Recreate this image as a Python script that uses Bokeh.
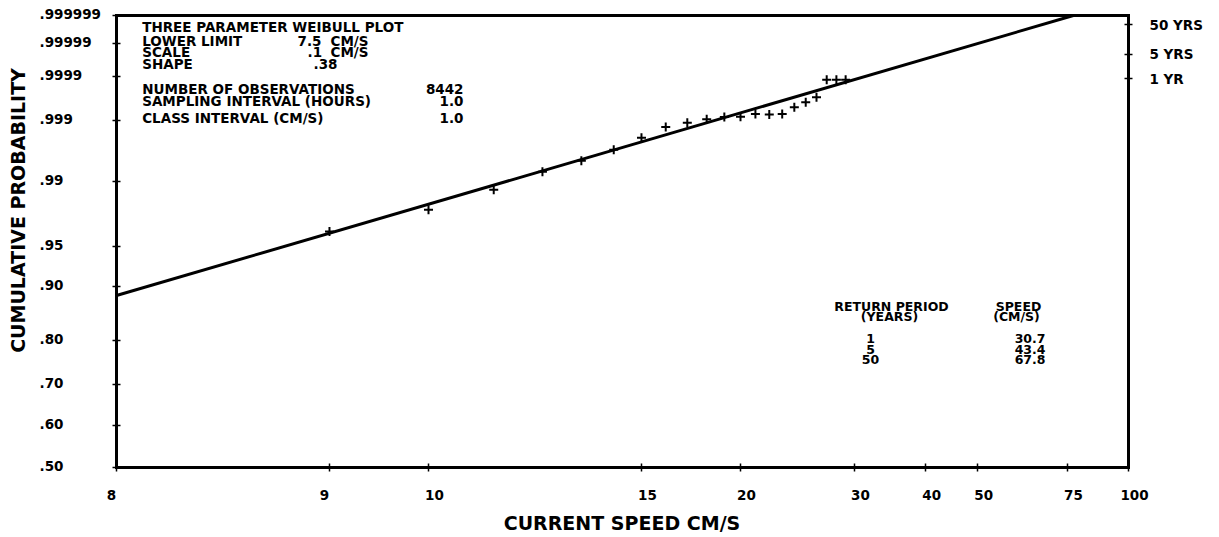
import math
from bokeh.plotting import figure
from bokeh.models import FixedTicker, CustomJSTickFormatter, LinearAxis, Label, Range1d, ColumnDataSource
from bokeh.embed import file_html
from bokeh.resources import INLINE

# ---------------- data ----------------
LOWER_LIMIT = 7.5
SPEED_CLASSES = [9, 10, 11, 12, 13, 14, 15, 16, 17, 18, 19, 20, 21, 22, 23, 24, 25, 26, 27, 28, 29]
CUM_PROB = [0.9634, 0.9781, 0.98725, 0.99265, 0.99493, 0.99659, 0.99786, 0.99864, 0.99888,
            0.99904, 0.99914, 0.99915, 0.99925, 0.99923, 0.99925, 0.99946, 0.99958, 0.99968,
            0.99988, 0.99988, 0.99988]
FIT_SPEED = [8.0, 77.1]
FIT_PROB = [0.8851, 0.999999]

X_TICKS = [8, 9, 10, 15, 20, 30, 40, 50, 75, 100]
X_TICK_LABELS = ["8", "9", "10", "15", "20", "30", "40", "50", "75", "100"]
Y_TICKS = [0.50, 0.60, 0.70, 0.80, 0.90, 0.95, 0.99, 0.999, 0.9999, 0.99999, 0.999999]
Y_TICK_LABELS = [".50", ".60", ".70", ".80", ".90", ".95", ".99", ".999", ".9999", ".99999", ".999999"]

RP_PROB = [0.999886, 0.9999772, 0.99999772]
RP_AXIS_LABELS = ["1 YR", "5 YRS", "50 YRS"]
RP_YEARS = ["1", "5", "50"]
RP_SPEEDS = ["30.7", "43.4", "67.8"]

INFO_TITLE = "THREE PARAMETER WEIBULL PLOT"
PARAM_NAMES = ["LOWER LIMIT", "SCALE", "SHAPE"]
PARAM_VALUES = ["7.5", ".1", ".38"]
PARAM_UNITS = ["CM/S", "CM/S", ""]
OBS_NAMES = ["NUMBER OF OBSERVATIONS", "SAMPLING INTERVAL (HOURS)", "CLASS INTERVAL (CM/S)"]
OBS_VALUES = ["8442", "1.0", "1.0"]

# ---------------- transforms (Weibull probability paper) ----------------
def tx(v):
    return math.log10(v - LOWER_LIMIT)

def ty(p):
    return math.log10(-math.log(1.0 - p))

XT0, XT1 = tx(X_TICKS[0]), tx(X_TICKS[-1])
YT0, YT1 = ty(Y_TICKS[0]), ty(Y_TICKS[-1])

# canvas and plot-box geometry (pixels)
W, H = 1216, 535
L, R, T, B = 116.0, 1128.0, 15.0, 467.0
SX = (XT1 - XT0) / (R - L)
SY = (YT1 - YT0) / (B - T)
X_START, X_END = XT0 - L * SX, XT0 + (W - L) * SX
Y_END, Y_START = YT1 + T * SY, YT1 - (H - T) * SY

def px2x(px):
    return X_START + px * SX

def py2y(py):
    return Y_END - py * SY

FONT = "DejaVu Sans"

p = figure(width=W, height=H, output_backend="svg", toolbar_location=None,
           x_range=Range1d(X_START, X_END), y_range=Range1d(Y_START, Y_END),
           x_axis_location=None, y_axis_location=None, min_border=0)
p.grid.visible = False
p.background_fill_color = "white"
p.border_fill_color = "white"
p.outline_line_color = None

blank = CustomJSTickFormatter(code="return '';")
rp_formatter = CustomJSTickFormatter(
    args=dict(vals=[ty(v) for v in RP_PROB], labels=RP_AXIS_LABELS),
    code="""
let best = 0; let bd = Infinity;
for (let i = 0; i < vals.length; i++) { const d = Math.abs(vals[i] - tick); if (d < bd) { bd = d; best = i; } }
return labels[best];
""")

def make_axis(ticks, loc, bounds, formatter, place):
    ax = LinearAxis(ticker=FixedTicker(ticks=ticks, minor_ticks=[]), formatter=formatter,
                    fixed_location=loc, bounds=bounds)
    ax.axis_line_width = 3
    ax.axis_line_color = "black"
    ax.axis_line_cap = "square"
    ax.major_tick_in = 4
    ax.major_tick_out = 4
    ax.major_tick_line_width = 1.5
    ax.major_tick_line_color = "black"
    ax.minor_tick_line_color = None
    ax.major_label_text_font = FONT
    ax.major_label_text_font_style = "bold"
    ax.major_label_text_font_size = "13.5px"
    ax.major_label_text_color = "black"
    p.add_layout(ax, place)
    return ax

make_axis([ty(v) for v in Y_TICKS], XT0, (YT0, YT1), blank, "left")
make_axis([tx(v) for v in X_TICKS], YT0, (XT0, XT1), blank, "below")
rax = make_axis([ty(v) for v in RP_PROB], XT1, (YT0, YT1), rp_formatter, "right")
rax.major_label_standoff = 17
make_axis([], YT1, (XT0, XT1), blank, "above")

# fitted line
p.line([tx(v) for v in FIT_SPEED], [ty(v) for v in FIT_PROB], line_color="black", line_width=3)

# observations
src = ColumnDataSource(dict(x=[tx(v) for v in SPEED_CLASSES], y=[ty(v) for v in CUM_PROB]))
p.scatter("x", "y", source=src, marker="cross", size=9, line_width=2, line_color="black")

def lab(x, y, text, size="13.5px", align="left", angle=0.0, x_offset=0, y_offset=0):
    p.add_layout(Label(x=x, y=y, text=text, text_font=FONT, text_font_style="bold",
                       text_font_size=size, text_align=align, text_baseline="middle",
                       text_color="black", angle=angle, x_offset=x_offset, y_offset=y_offset))

# tick labels
for v, t in zip(Y_TICKS, Y_TICK_LABELS):
    lab(px2x(39), ty(v), t, y_offset=1.5)
for v, t in zip(X_TICKS, X_TICK_LABELS):
    lab(tx(v), py2y(494), t, align="center", x_offset=(6 if len(t) > 1 else -5))

# axis titles
lab(px2x(17), py2y(210), "CUMULATIVE PROBABILITY", size="19px", align="center", angle=math.pi / 2)
lab(px2x(621.5), py2y(522), "CURRENT SPEED CM/S", size="19px", align="center")

# info block
lab(px2x(141.7), py2y(26.7), INFO_TITLE)
param_rows = [40.0, 51.7, 63.0]
param_val_x = [297.0, 307.0, 313.0]
for yy, name, val, unit, vx in zip(param_rows, PARAM_NAMES, PARAM_VALUES, PARAM_UNITS, param_val_x):
    lab(px2x(141.7), py2y(yy), name)
    lab(px2x(vx), py2y(yy), val)
    if unit:
        lab(px2x(330), py2y(yy), unit)
obs_rows = [88.7, 100.5, 117.0]
for yy, name, val in zip(obs_rows, OBS_NAMES, OBS_VALUES):
    lab(px2x(141.7), py2y(yy), name)
    lab(px2x(463), py2y(yy), val, align="right")

# return period table
TS = "12.5px"
lab(px2x(891), py2y(306), "RETURN PERIOD", size=TS, align="center")
lab(px2x(889), py2y(316), "(YEARS)", size=TS, align="center")
lab(px2x(1018), py2y(306), "SPEED", size=TS, align="center")
lab(px2x(1016), py2y(316), "(CM/S)", size=TS, align="center")
for yy, yr, sp in zip([338.0, 348.5, 359.0], RP_YEARS, RP_SPEEDS):
    lab(px2x(870), py2y(yy), yr, size=TS, align="center")
    lab(px2x(1045), py2y(yy), sp, size=TS, align="right")

open("out.html", "w").write(file_html(p, INLINE))
